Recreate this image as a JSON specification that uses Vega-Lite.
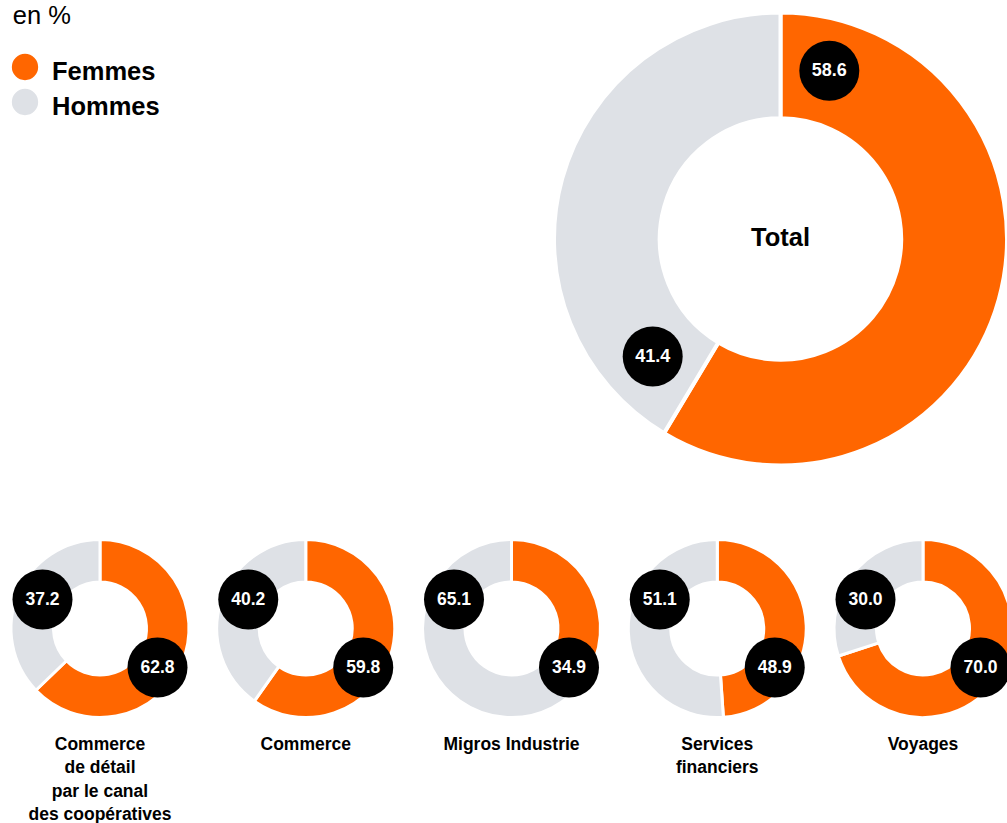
{
  "$schema": "https://vega.github.io/schema/vega-lite/v6.json",
  "background": "white",
  "padding": {"left": 0, "top": 3, "right": 0, "bottom": 0},
  "config": {
    "view": {"stroke": null},
    "font": "Liberation Sans"
  },
  "datasets": {
    "total": [
      {"ensemble": "Total", "genre": "Femmes", "part": 58.6},
      {"ensemble": "Total", "genre": "Hommes", "part": 41.4}
    ],
    "secteurs": [
      {"secteur": "Commerce\nde détail\npar le canal\ndes coopératives", "genre": "Femmes", "part": 62.8},
      {"secteur": "Commerce\nde détail\npar le canal\ndes coopératives", "genre": "Hommes", "part": 37.2},
      {"secteur": "Commerce", "genre": "Femmes", "part": 59.8},
      {"secteur": "Commerce", "genre": "Hommes", "part": 40.2},
      {"secteur": "Migros Industrie", "genre": "Femmes", "part": 34.9},
      {"secteur": "Migros Industrie", "genre": "Hommes", "part": 65.1},
      {"secteur": "Services\nfinanciers", "genre": "Femmes", "part": 48.9},
      {"secteur": "Services\nfinanciers", "genre": "Hommes", "part": 51.1},
      {"secteur": "Voyages", "genre": "Femmes", "part": 70.0},
      {"secteur": "Voyages", "genre": "Hommes", "part": 30.0}
    ]
  },
  "spacing": 59.5,
  "vconcat": [
    {
      "spacing": 385.5,
      "hconcat": [
        {
          "data": {"name": "total"},
          "width": 50,
          "height": 35,
          "title": {"text": "en %", "anchor": "start", "frame": "group", "fontSize": 25.5, "fontWeight": "normal", "font": "Liberation Sans", "color": "black", "offset": 24.5, "dx": 12.7},
          "encoding": {
            "y": {"field": "genre", "type": "nominal", "scale": {"type": "point", "padding": 0, "domain": ["Femmes", "Hommes"]}, "axis": null}
          },
          "layer": [
            {
              "mark": {"type": "circle", "size": 692, "opacity": 1},
              "encoding": {
                "color": {"field": "genre", "type": "nominal", "scale": {"domain": ["Femmes", "Hommes"], "range": ["#FF6600", "#DEE1E6"]}, "legend": null}
              }
            },
            {
              "mark": {"type": "text", "align": "left", "baseline": "middle", "dx": 27, "dy": 4.6, "fontSize": 25.5, "fontWeight": "bold", "color": "black"},
              "encoding": {"text": {"field": "genre", "type": "nominal"}}
            }
          ]
        },
        {
          "data": {"name": "total"},
          "width": 450,
          "height": 344,
          "layer": [
            {
              "mark": {"type": "arc", "outerRadius": 226.5, "innerRadius": 120.7, "stroke": "white", "strokeWidth": 4},
              "encoding": {
                "x": {"datum": 0, "type": "quantitative", "scale": {"domain": [-225, 225], "nice": false}, "axis": null},
                "y": {"datum": 0, "type": "quantitative", "scale": {"domain": [-172, 172], "nice": false}, "axis": null},
                "theta": {"field": "part", "type": "quantitative", "stack": true},
                "color": {"field": "genre", "type": "nominal", "scale": {"domain": ["Femmes", "Hommes"], "range": ["#FF6600", "#DEE1E6"]}, "legend": null}
              }
            },
            {
              "transform": [{"filter": "datum.genre === 'Femmes'"}],
              "encoding": {
                "x": {"datum": 48.8, "type": "quantitative", "scale": {"domain": [-225, 225], "nice": false}, "axis": null},
                "y": {"datum": 168.2, "type": "quantitative", "scale": {"domain": [-172, 172], "nice": false}, "axis": null}
              },
              "layer": [
                {"mark": {"type": "circle", "size": 3600, "color": "black", "opacity": 1}},
                {
                  "mark": {"type": "text", "align": "center", "baseline": "middle", "fontSize": 18, "fontWeight": "bold", "color": "white"},
                  "encoding": {"text": {"field": "part", "type": "quantitative", "format": ".1f"}}
                }
              ]
            },
            {
              "transform": [{"filter": "datum.genre === 'Hommes'"}],
              "encoding": {
                "x": {"datum": -127.8, "type": "quantitative", "scale": {"domain": [-225, 225], "nice": false}, "axis": null},
                "y": {"datum": -117.5, "type": "quantitative", "scale": {"domain": [-172, 172], "nice": false}, "axis": null}
              },
              "layer": [
                {"mark": {"type": "circle", "size": 3600, "color": "black", "opacity": 1}},
                {
                  "mark": {"type": "text", "align": "center", "baseline": "middle", "fontSize": 18, "fontWeight": "bold", "color": "white"},
                  "encoding": {"text": {"field": "part", "type": "quantitative", "format": ".1f"}}
                }
              ]
            },
            {
              "transform": [{"aggregate": [{"op": "count", "as": "n"}], "groupby": ["ensemble"]}],
              "mark": {"type": "text", "align": "center", "baseline": "middle", "fontSize": 25.5, "fontWeight": "bold", "color": "black", "dy": -1.5},
              "encoding": {
                "x": {"datum": 0, "type": "quantitative", "scale": {"domain": [-225, 225], "nice": false}, "axis": null},
                "y": {"datum": 0, "type": "quantitative", "scale": {"domain": [-172, 172], "nice": false}, "axis": null},
                "text": {"field": "ensemble", "type": "nominal"}
              }
            }
          ]
        }
      ]
    },
    {
      "data": {"name": "secteurs"},
      "spacing": 5.75,
      "facet": {
        "column": {
          "field": "secteur",
          "type": "nominal",
          "sort": ["Commerce\nde détail\npar le canal\ndes coopératives", "Commerce", "Migros Industrie", "Services\nfinanciers", "Voyages"],
          "title": null,
          "header": {
            "labelOrient": "bottom",
            "labelExpr": "split(datum.value, '\\n')",
            "labelFont": "Liberation Sans",
            "labelFontSize": 17.5,
            "labelFontWeight": "bold",
            "labelColor": "black",
            "labelBaseline": "top",
            "labelPadding": 12.7,
            "labelLineHeight": 23.3
          }
        }
      },
      "spec": {
        "width": 200,
        "height": 180,
        "layer": [
          {
            "mark": {"type": "arc", "outerRadius": 89, "innerRadius": 46.5, "stroke": "white", "strokeWidth": 3},
            "encoding": {
              "x": {"datum": 0, "type": "quantitative", "scale": {"domain": [-100, 100], "nice": false}, "axis": null},
              "y": {"datum": 0, "type": "quantitative", "scale": {"domain": [-90, 90], "nice": false}, "axis": null},
              "theta": {"field": "part", "type": "quantitative", "stack": true},
              "color": {"field": "genre", "type": "nominal", "scale": {"domain": ["Femmes", "Hommes"], "range": ["#FF6600", "#DEE1E6"]}, "legend": null}
            }
          },
          {
            "transform": [{"filter": "datum.genre === 'Femmes'"}],
            "encoding": {
              "x": {"datum": 57.5, "type": "quantitative", "scale": {"domain": [-100, 100], "nice": false}, "axis": null},
              "y": {"datum": -39, "type": "quantitative", "scale": {"domain": [-90, 90], "nice": false}, "axis": null}
            },
            "layer": [
              {"mark": {"type": "circle", "size": 3600, "color": "black", "opacity": 1}},
              {
                "mark": {"type": "text", "align": "center", "baseline": "middle", "fontSize": 17.5, "fontWeight": "bold", "color": "white"},
                "encoding": {"text": {"field": "part", "type": "quantitative", "format": ".1f"}}
              }
            ]
          },
          {
            "transform": [{"filter": "datum.genre === 'Hommes'"}],
            "encoding": {
              "x": {"datum": -57.5, "type": "quantitative", "scale": {"domain": [-100, 100], "nice": false}, "axis": null},
              "y": {"datum": 29, "type": "quantitative", "scale": {"domain": [-90, 90], "nice": false}, "axis": null}
            },
            "layer": [
              {"mark": {"type": "circle", "size": 3600, "color": "black", "opacity": 1}},
              {
                "mark": {"type": "text", "align": "center", "baseline": "middle", "fontSize": 17.5, "fontWeight": "bold", "color": "white"},
                "encoding": {"text": {"field": "part", "type": "quantitative", "format": ".1f"}}
              }
            ]
          }
        ]
      }
    }
  ]
}
